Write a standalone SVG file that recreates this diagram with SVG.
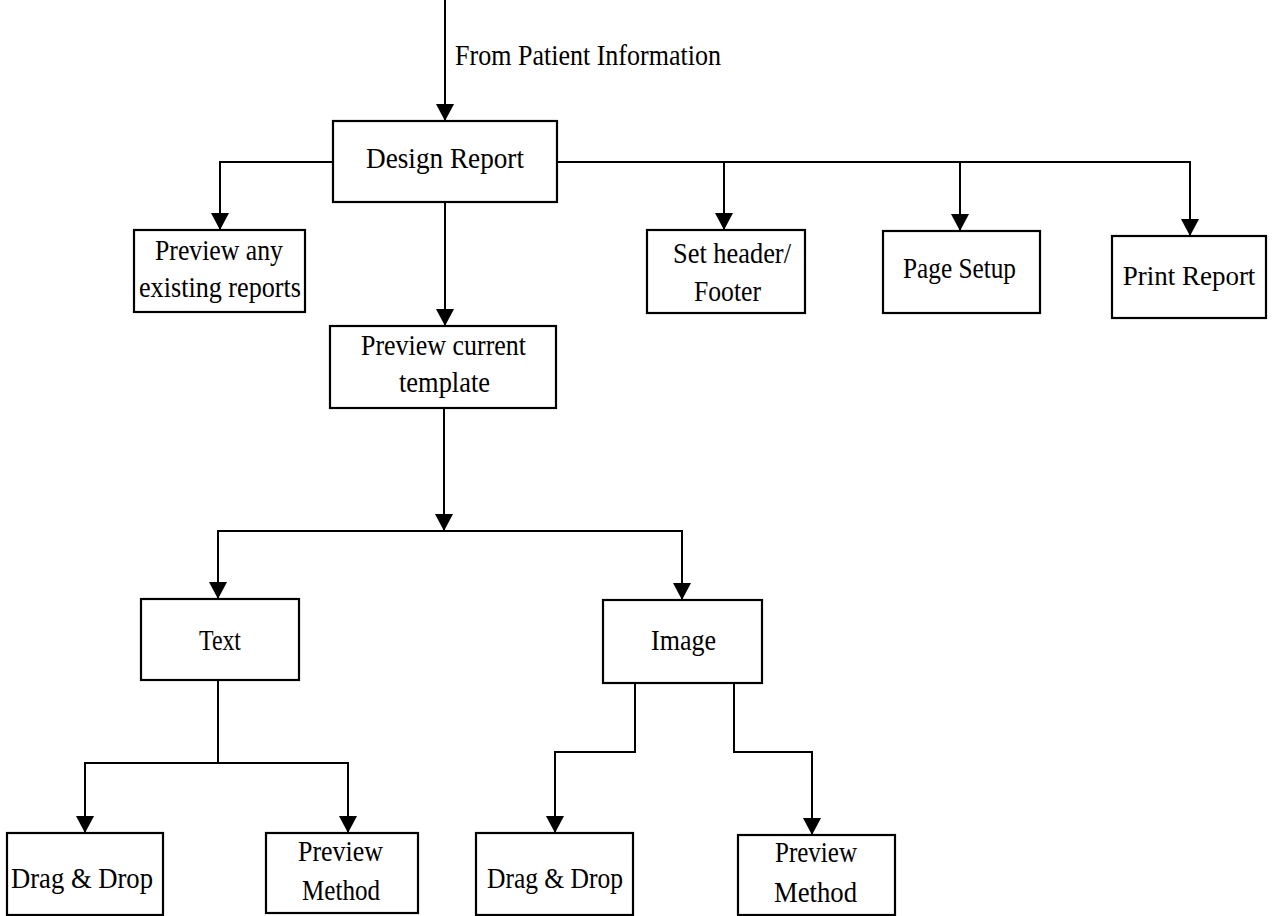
<svg xmlns="http://www.w3.org/2000/svg" width="1272" height="916" viewBox="0 0 1272 916">
<style>
.box{fill:#fff;stroke:#000;stroke-width:2.2}
.t{font-family:"Liberation Serif","Times New Roman",serif;font-size:30px;fill:#000}
.c{fill:none;stroke:#000;stroke-width:2}
</style>
<defs>
<marker id="ah" markerUnits="userSpaceOnUse" markerWidth="18" markerHeight="18" refX="16" refY="8.5" orient="auto" viewBox="0 0 17 17">
<path d="M0,0 L16,8.5 L0,17 Z" fill="#000"/>
</marker>
</defs>
<rect width="1272" height="916" fill="#fff"/>
<g id="connectors">
<path class="c" d="M445,0 V121" marker-end="url(#ah)"/>
<path class="c" d="M333,162 H220 V230" marker-end="url(#ah)"/>
<path class="c" d="M557,162 H1190 V236" marker-end="url(#ah)"/>
<path class="c" d="M724,162 V230" marker-end="url(#ah)"/>
<path class="c" d="M960,162 V231" marker-end="url(#ah)"/>
<path class="c" d="M445,202 V326" marker-end="url(#ah)"/>
<path class="c" d="M444,408 V531" marker-end="url(#ah)"/>
<path class="c" d="M444,531 H218 V599" marker-end="url(#ah)"/>
<path class="c" d="M444,531 H682 V600" marker-end="url(#ah)"/>
<path class="c" d="M218,680 V763 H85 V833" marker-end="url(#ah)"/>
<path class="c" d="M218,763 H348 V833" marker-end="url(#ah)"/>
<path class="c" d="M635,683 V752 H555 V833" marker-end="url(#ah)"/>
<path class="c" d="M734,683 V752 H812 V835" marker-end="url(#ah)"/>
<text class="t" x="455" y="65" textLength="266" lengthAdjust="spacingAndGlyphs">From Patient Information</text>
</g>
<g id="design">
<rect class="box" x="333" y="121" width="224" height="81"/>
<text class="t" x="366" y="168" textLength="158" lengthAdjust="spacingAndGlyphs">Design Report</text>
</g>
<g id="preview-any">
<rect class="box" x="134" y="230" width="171" height="82"/>
<text class="t" x="155" y="260" textLength="128" lengthAdjust="spacingAndGlyphs">Preview any</text>
<text class="t" x="139" y="297" textLength="162" lengthAdjust="spacingAndGlyphs">existing reports</text>
</g>
<g id="header-footer">
<rect class="box" x="647" y="230" width="158" height="83"/>
<text class="t" x="673" y="263" textLength="118" lengthAdjust="spacingAndGlyphs">Set header/</text>
<text class="t" x="694" y="301" textLength="67" lengthAdjust="spacingAndGlyphs">Footer</text>
</g>
<g id="page-setup">
<rect class="box" x="883" y="231" width="157" height="82"/>
<text class="t" x="903" y="278" textLength="113" lengthAdjust="spacingAndGlyphs">Page Setup</text>
</g>
<g id="print-report">
<rect class="box" x="1112" y="236" width="154" height="82"/>
<text class="t" x="1189" y="285" text-anchor="middle" style="font-size:27px">Print Report</text>
</g>
<g id="preview-current">
<rect class="box" x="330" y="326" width="226" height="82"/>
<text class="t" x="361" y="355" textLength="165" lengthAdjust="spacingAndGlyphs">Preview current</text>
<text class="t" x="399" y="392" textLength="91" lengthAdjust="spacingAndGlyphs">template</text>
</g>
<g id="text-node">
<rect class="box" x="141" y="599" width="158" height="81"/>
<text class="t" x="199" y="650" textLength="42" lengthAdjust="spacingAndGlyphs">Text</text>
</g>
<g id="image-node">
<rect class="box" x="603" y="600" width="159" height="83"/>
<text class="t" x="651" y="650" textLength="65" lengthAdjust="spacingAndGlyphs">Image</text>
</g>
<g id="drag-drop-1">
<rect class="box" x="7" y="833" width="156" height="82"/>
<text class="t" x="11" y="888" textLength="142" lengthAdjust="spacingAndGlyphs">Drag &amp; Drop</text>
</g>
<g id="preview-method-1">
<rect class="box" x="266" y="833" width="152" height="80"/>
<text class="t" x="298" y="861" textLength="85" lengthAdjust="spacingAndGlyphs">Preview</text>
<text class="t" x="302" y="900" textLength="78" lengthAdjust="spacingAndGlyphs">Method</text>
</g>
<g id="drag-drop-2">
<rect class="box" x="476" y="833" width="157" height="82"/>
<text class="t" x="487" y="888" textLength="136" lengthAdjust="spacingAndGlyphs">Drag &amp; Drop</text>
</g>
<g id="preview-method-2">
<rect class="box" x="738" y="835" width="157" height="80"/>
<text class="t" x="775" y="862" textLength="82" lengthAdjust="spacingAndGlyphs">Preview</text>
<text class="t" x="774" y="902" textLength="83" lengthAdjust="spacingAndGlyphs">Method</text>
</g>
</svg>
